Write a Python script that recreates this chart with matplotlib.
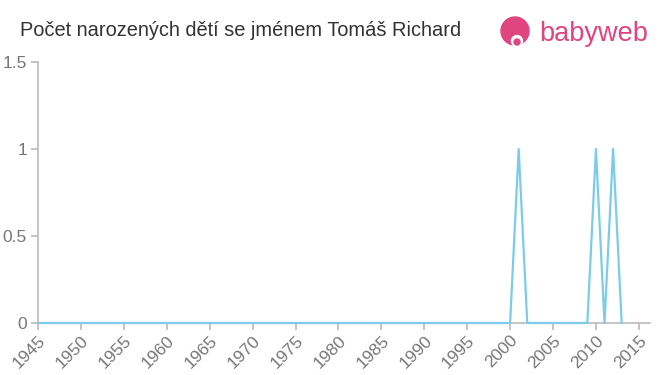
import matplotlib
matplotlib.use("Agg")
import matplotlib.pyplot as plt
from matplotlib.patches import Circle

plt.rcParams["font.family"] = ["Liberation Sans", "DejaVu Sans"]

# data: births per year
years = list(range(1945, 2014))
peak_years = [2001, 2010, 2012]
counts = [1 if y in peak_years else 0 for y in years]

xticks = list(range(1945, 2016, 5))
yticks = [0, 0.5, 1, 1.5]
ytick_labels = ["0", "0.5", "1", "1.5"]

title = "Počet narozených dětí se jménem Tomáš Richard"

fig = plt.figure(figsize=(6.6, 3.75), dpi=100)
ax = fig.add_axes([38 / 660, 1 - 323 / 375, (650 - 38) / 660, (323 - 62) / 375])

ax.plot(years, counts, color="#7ccce9", linewidth=1.6, clip_on=False, zorder=3)

ax.set_xlim(1945, 2016.3)
ax.set_ylim(0, 1.5)
ax.set_xticks(xticks)
ax.set_xticklabels([str(x) for x in xticks], rotation=45, ha="right",
                   rotation_mode="anchor")
ax.set_yticks(yticks)
ax.set_yticklabels(ytick_labels)

for s in ["top", "right"]:
    ax.spines[s].set_visible(False)
for s in ["left", "bottom"]:
    ax.spines[s].set_color("#bbbbbb")
    ax.spines[s].set_linewidth(1.2)
ax.tick_params(colors="#bbbbbb", labelcolor="#777777", labelsize=12.5,
               length=5, width=1.2)
ax.tick_params(axis="x", pad=2)
ax.tick_params(axis="y", pad=3)

fig.text(20 / 660, 1 - 31 / 375, title, fontsize=14.4, color="#333333",
         va="center", ha="left")

# logo
pink = "#e0457f"
logo_ax = fig.add_axes([0, 0, 1, 1], facecolor="none")
logo_ax.set_xlim(0, 660)
logo_ax.set_ylim(375, 0)
logo_ax.axis("off")
logo_ax.add_patch(Circle((515, 31), 14, color=pink))
logo_ax.add_patch(Circle((517, 41), 5.5, color="white"))
logo_ax.add_patch(Circle((517, 42), 3, color=pink))
fig.text(539 / 660, 1 - 34 / 375, "babyweb", fontsize=19.5, color=pink,
         va="center", ha="left")

fig.savefig("out.png", dpi=100)
